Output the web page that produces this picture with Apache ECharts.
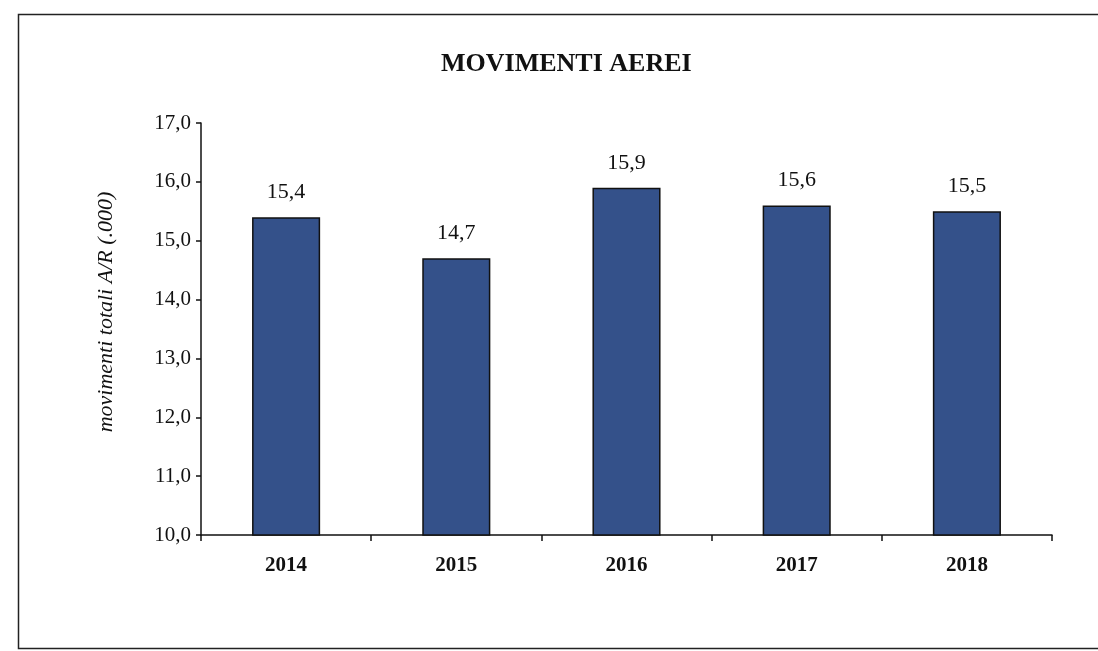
<!DOCTYPE html>
<html>
<head>
<meta charset="utf-8">
<script src="https://cdn.jsdelivr.net/npm/echarts@6/dist/echarts.min.js"></script>
<style>
  html, body { margin: 0; padding: 0; background: #fff; }
  #chart { width: 1098px; height: 651px; }
</style>
</head>
<body>
<div id="chart"></div>
<script>
const years = ['2014', '2015', '2016', '2017', '2018'];
const movimenti = [15.4, 14.7, 15.9, 15.6, 15.5];

const fmt = v => v.toFixed(1).replace('.', ',');
const serif = '"Liberation Serif", "DejaVu Serif", serif';

const chart = echarts.init(document.getElementById('chart'));
chart.setOption({
  animation: false,
  backgroundColor: '#fff',
  title: {
    text: 'MOVIMENTI AEREI',
    left: 436,
    top: 46,
    textStyle: { fontFamily: serif, fontWeight: 'bold', fontSize: 26, color: '#111' }
  },
  graphic: [{
    type: 'rect',
    shape: { x: 18.5, y: 14.5, width: 1100, height: 634 },
    style: { fill: 'none', stroke: '#222', lineWidth: 1.5 },
    silent: true
  }],
  grid: { left: 201, right: 46, top: 123, bottom: 116 },
  xAxis: {
    type: 'category',
    data: years,
    axisLine: { lineStyle: { color: '#111', width: 1.5 } },
    axisTick: { show: true, length: 6, lineStyle: { color: '#111', width: 1.5 } },
    axisLabel: { fontFamily: serif, fontWeight: 'bold', fontSize: 21, color: '#111', margin: 20 }
  },
  yAxis: {
    type: 'value',
    min: 10,
    max: 17,
    interval: 1,
    name: 'movimenti totali A/R (.000)',
    nameLocation: 'middle',
    nameGap: 84,
    nameTextStyle: { fontFamily: serif, fontStyle: 'italic', fontSize: 22, color: '#111', padding: [0, 0, 0, 34] },
    axisLine: { show: true, lineStyle: { color: '#111', width: 1.5 } },
    axisTick: { show: true, length: 5, lineStyle: { color: '#111', width: 1.5 } },
    splitLine: { show: false },
    axisLabel: { fontFamily: serif, fontSize: 21, color: '#111', margin: 10, formatter: fmt }
  },
  series: [{
    type: 'bar',
    data: movimenti,
    barWidth: '40%',
    itemStyle: { color: '#34518a', borderColor: '#111', borderWidth: 1.5 },
    label: {
      show: true,
      position: 'top',
      distance: 14,
      fontFamily: serif,
      fontSize: 22,
      color: '#111',
      formatter: p => fmt(p.value)
    }
  }]
});
</script>
</body>
</html>
